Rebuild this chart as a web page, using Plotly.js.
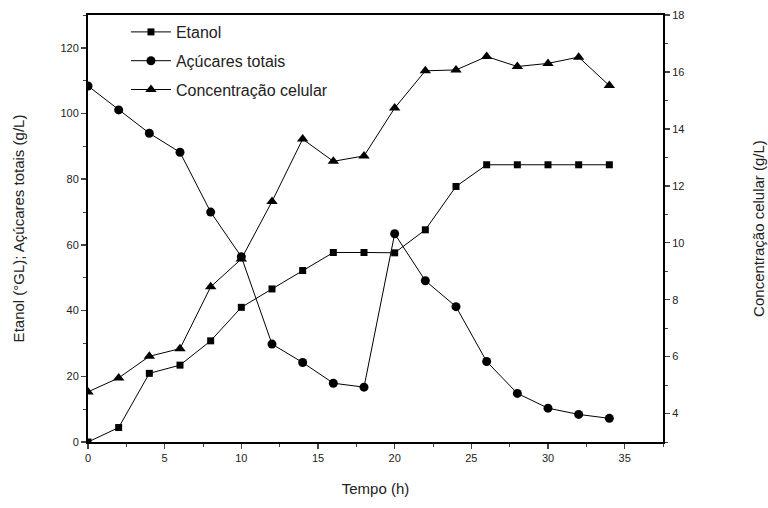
<!DOCTYPE html>
<html><head><meta charset="utf-8">
<script src="https://cdn.plot.ly/plotly-3.0.1.min.js"></script>
<style>html,body{margin:0;padding:0;background:#fff}#chart{width:768px;height:508px}</style>
</head><body><div id="chart"></div>
<script>
const tempo = [0,2,4,6,8,10,12,14,16,18,20,22,24,26,28,30,32,34];
const etanol = [0,4.4,20.9,23.4,30.8,41.0,46.6,52.2,57.7,57.7,57.6,64.6,77.8,84.4,84.4,84.4,84.4,84.4];
const acucares = [108.4,101.1,94.0,88.2,70.0,56.4,29.8,24.2,17.9,16.7,63.4,49.1,41.2,24.5,14.8,10.3,8.4,7.2];
const celular = [4.76,5.25,6.01,6.28,8.45,9.43,11.45,13.64,12.86,13.05,14.73,16.04,16.07,16.54,16.19,16.30,16.52,15.52];
const names = ["Etanol","Açúcares totais","Concentração celular"];

const line = {color:'#000', width:1};
const traces = [
  {x:tempo, y:etanol, name:names[0], mode:'lines+markers', line, marker:{symbol:'square', size:7, color:'#000'}, legendgroup:'a'},
  {x:tempo, y:acucares, name:names[1], mode:'lines+markers', line, marker:{symbol:'circle', size:9, color:'#000'}, legendgroup:'b'},
  {x:tempo, y:celular, name:names[2], yaxis:'y2', mode:'lines+markers', line, marker:{symbol:'triangle-up', size:10, color:'#000'}, legendgroup:'c'}
];
const ff = 'Liberation Sans, Arial, sans-serif';
const tf = {family:ff, size:11, color:'#222'};
const layout = {
  width:768, height:508,
  margin:{l:88, r:105, t:15, b:66},
  paper_bgcolor:'#fff', plot_bgcolor:'#fff',
  showlegend:true,
  legend:{x:0.066, y:1.0, xanchor:'left', yanchor:'top', bgcolor:'rgba(0,0,0,0)',
    font:{family:ff, size:16, color:'#222'},
    traceorder:'grouped', tracegroupgap:5, itemwidth:40},
  xaxis:{range:[0,37.5], dtick:5, tick0:0, ticks:'outside', ticklen:5, tickwidth:1.5, showline:true, linewidth:2, linecolor:'#000', mirror:true, showgrid:false, zeroline:false,
    minor:{dtick:2.5, ticks:'outside', ticklen:3, tickwidth:1},
    tickfont:tf, title:{text:'Tempo (h)', font:{family:ff, size:15, color:'#222'}, standoff:20}},
  yaxis:{range:[0,130], dtick:20, tick0:0, ticks:'outside', ticklen:5, tickwidth:1.5, showline:true, linewidth:2, linecolor:'#000', showgrid:false, zeroline:false,
    minor:{dtick:10, ticks:'outside', ticklen:3, tickwidth:1},
    tickfont:tf, title:{text:'Etanol (°GL); Açúcares totais (g/L)', font:{family:ff, size:15, color:'#222'}, standoff:32}},
  yaxis2:{overlaying:'y', side:'right', range:[3,18], dtick:2, tick0:0, ticks:'outside', ticklen:5, tickwidth:1.5, showline:true, linewidth:2, linecolor:'#000', showgrid:false, zeroline:false,
    minor:{dtick:1, ticks:'outside', ticklen:3, tickwidth:1},
    tickfont:tf, title:{text:'Concentração celular (g/L)', font:{family:ff, size:15, color:'#222'}, standoff:70}}
};
Plotly.newPlot('chart', traces, layout, {displayModeBar:false, staticPlot:true});
</script></body></html>
